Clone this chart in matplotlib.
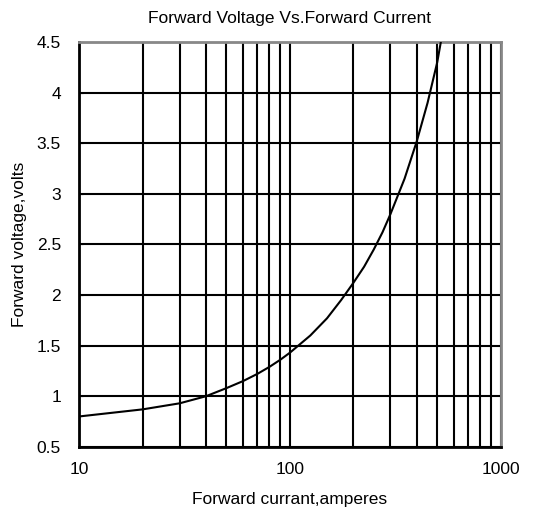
import matplotlib
matplotlib.use("Agg")
import matplotlib.pyplot as plt
from matplotlib.ticker import LogLocator, FixedLocator, FuncFormatter

# forward current (A) vs forward voltage (V)
current = [10, 20, 30, 40, 50, 60, 70, 80, 90, 100, 125, 150, 175, 200,
           225, 250, 275, 300, 350, 400, 450, 500, 520]
voltage = [0.80, 0.87, 0.93, 1.00, 1.08, 1.15, 1.22, 1.29, 1.36, 1.43, 1.60,
           1.77, 1.95, 2.12, 2.28, 2.45, 2.62, 2.80, 3.15, 3.52, 3.90, 4.30, 4.50]

y_ticks = [0.5, 1, 1.5, 2, 2.5, 3, 3.5, 4, 4.5]
x_ticks = [10, 100, 1000]

plt.rcParams['font.family'] = ['Liberation Sans', 'DejaVu Sans']

fig = plt.figure(figsize=(5.49, 5.13), dpi=100)
ax = fig.add_axes([0.144, 0.129, 0.768, 0.789])

ax.plot(current, voltage, color='black', lw=1.5, zorder=3)

ax.set_xscale('log')
ax.set_xlim(10, 1000)
ax.set_ylim(0.5, 4.5)

ax.xaxis.set_major_locator(FixedLocator(x_ticks))
ax.xaxis.set_minor_locator(LogLocator(base=10, subs=range(2, 10)))
ax.xaxis.set_major_formatter(FuncFormatter(lambda v, p: f"{v:g}"))
ax.yaxis.set_major_locator(FixedLocator(y_ticks))
ax.yaxis.set_major_formatter(FuncFormatter(lambda v, p: f"{v:g}"))

ax.grid(True, which='both', axis='x', color='black', lw=1.5)
ax.grid(True, which='major', axis='y', color='black', lw=1.5)
ax.set_axisbelow(True)

ax.tick_params(axis='x', which='both', length=0, labelsize=12.5, pad=11)
ax.tick_params(axis='y', length=3, direction='in', labelsize=12.5, pad=13)

for side in ['left', 'bottom']:
    ax.spines[side].set_color('black')
    ax.spines[side].set_linewidth(2)
for side in ['top', 'right']:
    ax.spines[side].set_color('#888888')
    ax.spines[side].set_linewidth(2)

ax.set_title("Forward Voltage Vs.Forward Current", fontsize=12.5, pad=14)
ax.set_xlabel("Forward currant,amperes", fontsize=12.5, labelpad=11)
ax.set_ylabel("Forward voltage,volts", fontsize=12.5, labelpad=7)

fig.savefig("out.png", dpi=100)
